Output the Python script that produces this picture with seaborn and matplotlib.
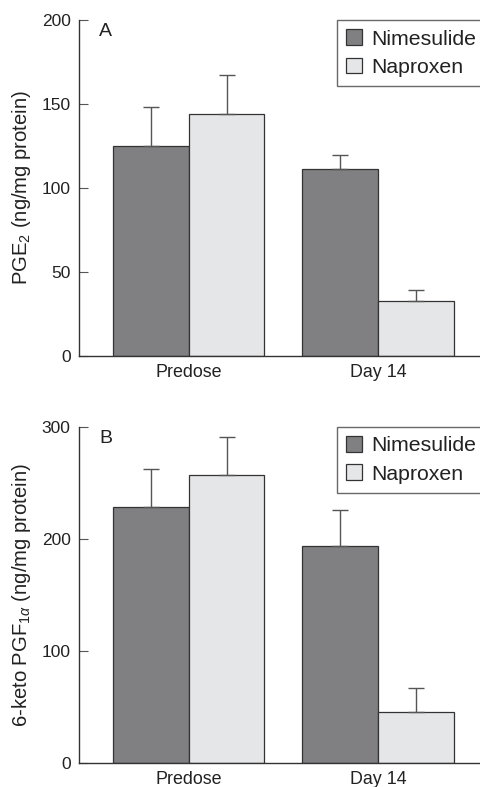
import pandas as pd
import seaborn as sns
import matplotlib.pyplot as plt

sns.set_style("ticks")
plt.rcParams["font.family"] = ["Liberation Sans", "DejaVu Sans"]
plt.rcParams["mathtext.fontset"] = "custom"
plt.rcParams["mathtext.rm"] = "Liberation Sans"
plt.rcParams["mathtext.it"] = "Liberation Sans:italic"

times = ["Predose", "Day 14"]
drugs = ["Nimesulide", "Naproxen"]

pge2_nime = [125, 111]
pge2_napr = [144, 33]
pge2_nime_err = [23, 8.5]
pge2_napr_err = [23, 6.5]

pgf_nime = [228, 193]
pgf_napr = [257, 45]
pgf_nime_err = [34, 33]
pgf_napr_err = [34, 22]

colors = ["#7f8084", "#e5e6e7"]
txt = "#222222"


def make_df(nime, napr):
    return pd.DataFrame({
        "time": times * 2,
        "drug": [drugs[0]] * 2 + [drugs[1]] * 2,
        "value": nime + napr,
    })


def panel(ax, df, errs, ylim, yticks, ylabel, letter):
    sns.barplot(data=df, x="time", y="value", hue="drug", order=times,
                hue_order=drugs, palette=colors, errorbar=None,
                edgecolor="#333333", linewidth=0.9, ax=ax)
    for cont, err in zip(ax.containers, errs):
        xs = [p.get_x() + p.get_width() / 2 for p in cont]
        ys = [p.get_height() for p in cont]
        ax.errorbar(xs, ys, yerr=[[0] * len(err), err], fmt="none",
                    ecolor="#555555", elinewidth=1, capsize=5.6,
                    capthick=1, zorder=1)
    ax.set_xlim(-0.58, 1.54)
    ax.set_ylim(*ylim)
    ax.set_yticks(yticks)
    ax.set_xlabel("")
    ax.set_ylabel(ylabel, fontsize=14.6, color=txt, labelpad=6)
    sns.despine(ax=ax)
    for s in ["left", "bottom"]:
        ax.spines[s].set_color("#333333")
        ax.spines[s].set_linewidth(1)
    ax.tick_params(axis="y", direction="in", length=6.5, width=0.8,
                   color="#555555", labelsize=12.5, labelcolor=txt, pad=6)
    ax.tick_params(axis="x", length=0, labelsize=12.9, labelcolor=txt, pad=6)
    ax.text(0.05, 0.99, letter, transform=ax.transAxes, ha="left",
            va="top", fontsize=14, color=txt)
    h, l = ax.get_legend_handles_labels()
    leg = ax.legend(h, l, loc="upper left", bbox_to_anchor=(0.643, 1.0),
                    borderaxespad=0, frameon=True, fancybox=False,
                    fontsize=15.3, handlelength=0.75, handleheight=0.75,
                    handletextpad=0.4, labelspacing=0.42, borderpad=0.45)
    leg.get_frame().set_edgecolor("#444444")
    leg.get_frame().set_linewidth(1)
    for t in leg.get_texts():
        t.set_color(txt)


fig = plt.figure(figsize=(4.8, 7.87), dpi=100)
ax1 = fig.add_axes([0.1646, 0.5477, 0.8354, 0.427])
ax2 = fig.add_axes([0.1646, 0.0309, 0.8354, 0.427])

panel(ax1, make_df(pge2_nime, pge2_napr), [pge2_nime_err, pge2_napr_err],
      (0, 200), [0, 50, 100, 150, 200],
      r"PGE$_{\mathregular{2}}$ (ng/mg protein)", "A")
panel(ax2, make_df(pgf_nime, pgf_napr), [pgf_nime_err, pgf_napr_err],
      (0, 300), [0, 100, 200, 300],
      r"6-keto PGF$_{\mathregular{1}\alpha}$ (ng/mg protein)", "B")

fig.savefig("out.png", dpi=100)
